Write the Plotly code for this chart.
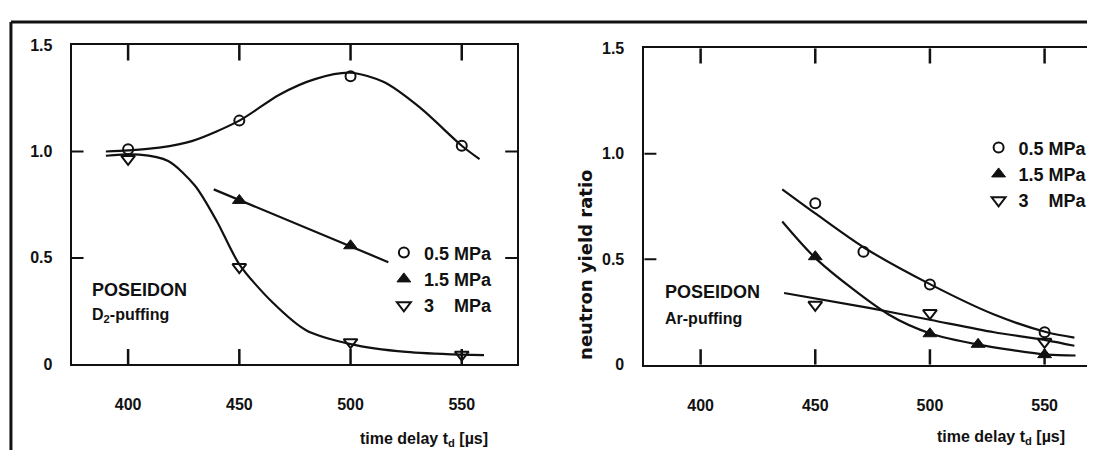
import plotly.graph_objects as go

W, H = 1093, 459

# ---------------- data ----------------
# Left panel: POSEIDON, D2-puffing
d2_x = [400, 450, 500, 550]
d2_05 = [1.01, 1.145, 1.353, 1.027]
d2_15_x = [450, 500]
d2_15 = [0.77, 0.557]
d2_3 = [0.965, 0.457, 0.104, 0.045]

d2_fit05_x = [390, 400, 414, 429, 450, 468, 484, 500, 515, 531, 550, 558]
d2_fit05_y = [1.0, 1.005, 1.018, 1.05, 1.145, 1.267, 1.34, 1.37, 1.326, 1.208, 1.027, 0.964]
d2_fit15_x = [438.5, 517]
d2_fit15_y = [0.822, 0.48]
d2_fit3_x = [390, 405, 418, 430, 440, 450, 465, 480, 500, 525, 550, 560]
d2_fit3_y = [0.98, 0.985, 0.955, 0.84, 0.67, 0.47, 0.29, 0.16, 0.095, 0.058, 0.045, 0.043]

# Right panel: POSEIDON, Ar-puffing
ar_05_x = [450, 471, 500, 550]
ar_05 = [0.765, 0.535, 0.38, 0.154]
ar_15_x = [450, 500, 521, 550]
ar_15 = [0.512, 0.147, 0.097, 0.048]
ar_3_x = [450, 500, 550]
ar_3 = [0.284, 0.245, 0.109]

ar_fit05_x = [435.6, 450, 471, 500, 528, 551, 563]
ar_fit05_y = [0.831, 0.717, 0.557, 0.382, 0.238, 0.154, 0.129]
ar_fit15_x = [435.6, 451, 482, 500.5, 520.5, 551, 563.5]
ar_fit15_y = [0.679, 0.496, 0.238, 0.147, 0.097, 0.048, 0.044]
ar_fit3_x = [436.4, 474, 500.5, 528, 551, 563]
ar_fit3_y = [0.34, 0.268, 0.212, 0.154, 0.116, 0.09]

series_names = ["0.5 MPa", "1.5 MPa", "3\u00a0\u00a0\u00a0\u00a0MPa"]
x_ticks = [400, 450, 500, 550]
y_ticks = [0, 0.5, 1.0, 1.5]
y_ticktext = ["0", "0.5", "1.0", "1.5"]
y_inner_ticks = [0.5, 1.0]

FONT = "Liberation Sans, Arial, sans-serif"
INK = "#111111"


def px_x(p):
    return p / W


def px_y(p):
    return 1 - p / H


# panel geometry (pixels in the 1093x459 page)
L_X0, L_X1, L_YT, L_YB = 72, 520, 38.5, 370
R_X0, R_X1, R_YT, R_YB = 648, W, 41.7, 370.5
L_RANGE = [374.6, 574.9]
R_RANGE = [375.5, 568.5]
Y_RANGE = [0, 1.5]
XTICK_PX, YTICK_PX = 16, 12

fig = go.Figure()

line_style = dict(color=INK, width=2.2, shape="spline", smoothing=0.8)

# left curves
for xs, ys in [(d2_fit05_x, d2_fit05_y), (d2_fit15_x, d2_fit15_y), (d2_fit3_x, d2_fit3_y)]:
    fig.add_trace(go.Scatter(x=xs, y=ys, mode="lines", line=line_style,
                             showlegend=False, hoverinfo="skip", xaxis="x", yaxis="y"))
# right curves
for xs, ys in [(ar_fit05_x, ar_fit05_y), (ar_fit15_x, ar_fit15_y), (ar_fit3_x, ar_fit3_y)]:
    fig.add_trace(go.Scatter(x=xs, y=ys, mode="lines", line=line_style,
                             showlegend=False, hoverinfo="skip", xaxis="x2", yaxis="y2"))

# x tick marks pointing into each plot box (bottom and top edges), at the tick values
for xa, ya, hpx in [("x", "y", L_YB - L_YT), ("x2", "y2", R_YB - R_YT)]:
    dy = XTICK_PX / hpx * (Y_RANGE[1] - Y_RANGE[0])
    tx, ty = [], []
    for v in x_ticks:
        tx += [v, v, None, v, v, None]
        ty += [Y_RANGE[0], Y_RANGE[0] + dy, None, Y_RANGE[1], Y_RANGE[1] - dy, None]
    fig.add_trace(go.Scatter(x=tx, y=ty, mode="lines", line=dict(color=INK, width=2.5),
                             showlegend=False, hoverinfo="skip", xaxis=xa, yaxis=ya,
                             cliponaxis=False))

m_circle = dict(symbol="circle-open", size=10, color=INK, line=dict(width=2, color=INK))
m_tri = dict(symbol="triangle-up", size=12, color=INK, line=dict(width=1, color=INK))
m_dtri = dict(symbol="triangle-down-open", size=12, color=INK, line=dict(width=2, color=INK))

# left markers
fig.add_trace(go.Scatter(x=d2_x, y=d2_05, mode="markers", marker=m_circle, name=series_names[0],
                         legend="legend", xaxis="x", yaxis="y"))
fig.add_trace(go.Scatter(x=d2_15_x, y=d2_15, mode="markers", marker=m_tri, name=series_names[1],
                         legend="legend", xaxis="x", yaxis="y"))
fig.add_trace(go.Scatter(x=d2_x, y=d2_3, mode="markers", marker=m_dtri, name=series_names[2],
                         legend="legend", xaxis="x", yaxis="y"))
# right markers
fig.add_trace(go.Scatter(x=ar_05_x, y=ar_05, mode="markers", marker=m_circle, name=series_names[0],
                         legend="legend2", xaxis="x2", yaxis="y2"))
fig.add_trace(go.Scatter(x=ar_15_x, y=ar_15, mode="markers", marker=m_tri, name=series_names[1],
                         legend="legend2", xaxis="x2", yaxis="y2"))
fig.add_trace(go.Scatter(x=ar_3_x, y=ar_3, mode="markers", marker=m_dtri, name=series_names[2],
                         legend="legend2", xaxis="x2", yaxis="y2"))

tickfont = dict(family=FONT, size=16, color=INK, weight="bold")

xmain = dict(tickvals=x_ticks, ticks="", showline=True, linecolor=INK, linewidth=2,
             showgrid=False, zeroline=False, tickfont=tickfont, fixedrange=True,
             ticklabelstandoff=25, mirror=True)
ymain = dict(range=Y_RANGE, tickvals=y_ticks, ticktext=y_ticktext, ticks="",
             showline=True, linecolor=INK, linewidth=2,
             showgrid=False, zeroline=False, tickfont=tickfont, fixedrange=True)

fig.update_layout(
    width=W, height=H,
    margin=dict(l=0, r=0, t=0, b=0),
    paper_bgcolor="white", plot_bgcolor="white",
    font=dict(family=FONT, color=INK),
    xaxis=dict(domain=[px_x(L_X0), px_x(L_X1)], range=L_RANGE, anchor="y", **xmain),
    yaxis=dict(domain=[px_y(L_YB), px_y(L_YT)], anchor="x", mirror=True,
               ticklabelstandoff=14, **ymain),
    xaxis2=dict(domain=[px_x(R_X0), 1.0], range=R_RANGE, anchor="y2", **xmain),
    yaxis2=dict(domain=[px_y(R_YB), px_y(R_YT)], anchor="x2", mirror=False,
                ticklabelstandoff=15, **ymain),
    legend=dict(x=px_x(386), y=px_y(235), xanchor="left", yanchor="top",
                bgcolor="rgba(0,0,0,0)", font=dict(family=FONT, size=18, color=INK, weight="bold"),
                itemclick=False, itemdoubleclick=False),
    legend2=dict(x=px_x(984), y=px_y(126), xanchor="left", yanchor="top",
                 bgcolor="rgba(0,0,0,0)", font=dict(family=FONT, size=18, color=INK, weight="bold"),
                 itemclick=False, itemdoubleclick=False),
    showlegend=True,
)

# y tick marks pointing into the plot boxes, at the tick values
tick_line = dict(color=INK, width=2)
for xa, ya, wpx, right_side in [("x", "y", L_X1 - L_X0, True), ("x2", "y2", R_X1 - R_X0, False)]:
    fy = YTICK_PX / wpx
    for v in y_inner_ticks:
        fig.add_shape(type="line", xref=f"{xa} domain", yref=ya, x0=0, x1=fy, y0=v, y1=v, line=tick_line)
        if right_side:
            fig.add_shape(type="line", xref=f"{xa} domain", yref=ya, x0=1, x1=1 - fy, y0=v, y1=v, line=tick_line)

ann_font = dict(family=FONT, size=16, color=INK, weight="bold")
big_font = dict(family=FONT, size=18, color=INK, weight="bold")
annotations = [
    dict(text="POSEIDON", x=px_x(90), y=px_y(293), xanchor="left", yanchor="middle", font=big_font),
    dict(text="D<sub>2</sub>-puffing", x=px_x(90), y=px_y(319), xanchor="left", yanchor="middle", font=ann_font),
    dict(text="POSEIDON", x=px_x(667), y=px_y(295), xanchor="left", yanchor="middle", font=big_font),
    dict(text="Ar-puffing", x=px_x(667), y=px_y(322), xanchor="left", yanchor="middle", font=ann_font),
    dict(text="time delay t<sub>d</sub> [µs]", x=px_x(493), y=px_y(448), xanchor="right", yanchor="middle", font=ann_font),
    dict(text="time delay t<sub>d</sub> [µs]", x=px_x(1073), y=px_y(446), xanchor="right", yanchor="middle", font=ann_font),
    dict(text="neutron yield ratio", x=px_x(588.5), y=px_y(266.5), xanchor="center", yanchor="middle",
         textangle=-90, font=dict(family="DejaVu Sans, sans-serif", size=18, color=INK, weight="bold")),
]
for a in annotations:
    a.update(xref="paper", yref="paper", showarrow=False)
fig.update_layout(annotations=annotations)

# outer frame of the figure (left and top edges)
fig.add_shape(type="line", xref="paper", yref="paper", x0=px_x(11), x1=1.0, y0=px_y(14.5), y1=px_y(14.5),
              line=dict(color=INK, width=3))
fig.add_shape(type="line", xref="paper", yref="paper", x0=px_x(11), x1=px_x(11), y0=px_y(14.5), y1=0,
              line=dict(color=INK, width=3))

fig.write_html("out.html")
